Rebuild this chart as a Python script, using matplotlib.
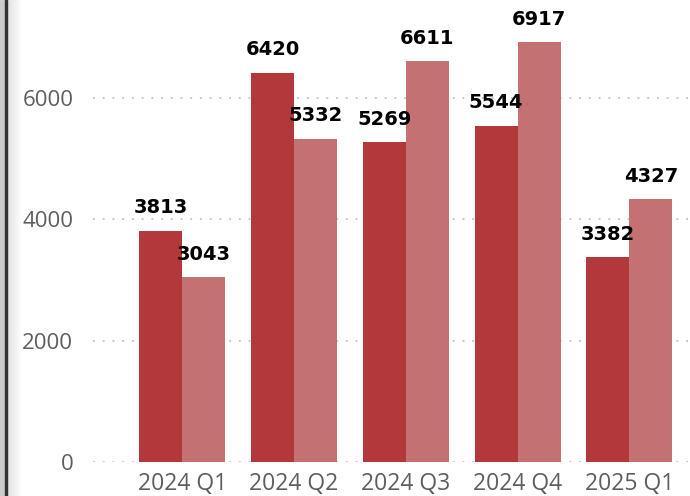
import matplotlib
matplotlib.use("Agg")
import matplotlib.pyplot as plt
import numpy as np
from matplotlib.patches import Rectangle

quarters = ["2024 Q1", "2024 Q2", "2024 Q3", "2024 Q4", "2025 Q1"]
series_a = [3813, 6420, 5269, 5544, 3382]
series_b = [3043, 5332, 6611, 6917, 4327]
y_ticks = [0, 2000, 4000, 6000]

dark_red = "#B3383B"
light_red = "#C47174"
grid_grey = "#c8c8c8"
tick_grey = "#605E5C"

W, H = 690, 496
fig = plt.figure(figsize=(W / 100, H / 100), dpi=100)

# plot area: starts where the dotted grid starts, zero line near the bottom
left_px, zero_px = 93, 462
ax = fig.add_axes([left_px / W, (H - zero_px) / H, (W - left_px) / W, zero_px / H])

x = np.arange(len(quarters))
width = 0.385
bars_a = ax.bar(x - width / 2, series_a, width, color=dark_red, zorder=3)
bars_b = ax.bar(x + width / 2, series_b, width, color=light_red, zorder=3)

label_font = dict(family="DejaVu Sans", weight="bold", size=14, color="black")
ax.bar_label(bars_a, padding=9.5, **label_font)
ax.bar_label(bars_b, padding=9.5, **label_font)

ax.set_xlim(-0.80, 4.544)
ax.set_ylim(0, 7615)

# dotted horizontal grid
ax.set_yticks(y_ticks)
ax.yaxis.grid(True, color=grid_grey, linewidth=1.4, linestyle=(0, (1, 4)), zorder=0)
ax.xaxis.grid(False)
ax.set_axisbelow(True)

ax.set_xticks(x)
ax.set_xticklabels(quarters)
ax.tick_params(axis="both", length=0, colors=tick_grey, labelsize=16)
ax.tick_params(axis="y", pad=14.2)
ax.tick_params(axis="x", pad=7, labelsize=16.5)
for lbl in ax.get_xticklabels() + ax.get_yticklabels():
    lbl.set_family("Open Sans")

for s in ax.spines.values():
    s.set_visible(False)
ax.patch.set_alpha(0)

# window edge on the left: grey strip, dark line, soft shadow
fig.patches.append(Rectangle((0, 0), 5 / W, 1, transform=fig.transFigure,
                             color="#cccccc", zorder=5))
fig.patches.append(Rectangle((5 / W, 0), 2.3 / W, 1, transform=fig.transFigure,
                             color="#333333", zorder=5))
shade = fig.add_axes([7.3 / W, 0, 16 / W, 1])
grad = np.linspace(0.88, 1.0, 64).reshape(1, -1)
shade.imshow(grad, aspect="auto", cmap="gray", vmin=0, vmax=1,
             extent=(0, 1, 0, 1))
shade.set_axis_off()

fig.savefig("out.png", dpi=100)
